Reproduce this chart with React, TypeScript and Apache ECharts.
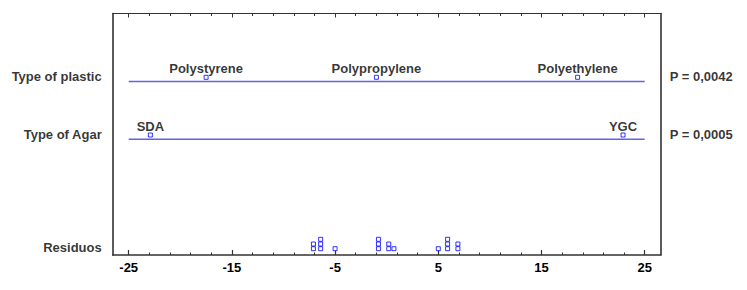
import React, { useEffect, useRef } from 'react';
import * as echarts from 'echarts';

// ---- data ----
const rowNames = ['Type of plastic', 'Type of Agar', 'Residuos'];
const pValues = ['P = 0,0042', 'P = 0,0005'];
const plasticLevels = ['Polystyrene', 'Polypropylene', 'Polyethylene'];
const plasticEffects = [-17.5, -1.0, 18.5];
const agarLevels = ['SDA', 'YGC'];
const agarEffects = [-22.9, 22.9];
const residuals = [-7.1, -7.1, -6.4, -6.4, -6.4, -5.0, -0.8, -0.8, -0.8, 0.2, 0.2, 0.7, 5.0, 5.9, 5.9, 5.9, 6.9, 6.9];
const majorTicks = [-25, -15, -5, 5, 15, 25];
const minorTicks = [-25, -23, -21, -19, -17, -15, -13, -11, -9, -7, -5, -3, -1, 1, 3, 5, 7, 9, 11, 13, 15, 17, 19, 21, 23, 25];

// ---- layout (not data) ----
const X_MIN = -26.55;
const X_MAX = 26.55;
const PLOT_H = 241.5;
const ROW_Y = [63.8, 121.5, 235.2];
const LINE_DROP = 4.2;
const STACK_STEP = 4.7;
const FONT = "'Liberation Sans', Arial, sans-serif";
const MARK_COLOR = '#0000ff';
const LINE_COLOR = '#6262ea';
const FRAME_COLOR = '#333333';

export default function App() {
  const ref = useRef<HTMLDivElement>(null);
  useEffect(() => {
    document.body.style.margin = '0';
    const chart = echarts.init(ref.current!, null, { renderer: 'svg' });

    const seen: Record<string, number> = {};
    const residualData = residuals.map((v) => {
      const k = String(v);
      const idx = seen[k] || 0;
      seen[k] = idx + 1;
      return [v, ROW_Y[2] - idx * STACK_STEP];
    });

    const lineEnds = [majorTicks[0], majorTicks[majorTicks.length - 1]];
    const textStyle = { color: '#000', fontWeight: 'bold' as const, fontSize: 13, fontFamily: FONT };
    const markerStyle = { color: '#ffffff', borderColor: MARK_COLOR, borderWidth: 1 };

    const effectSeries = (names: string[], vals: number[], row: number) => ({
      type: 'scatter',
      symbol: 'rect',
      symbolSize: 4,
      itemStyle: markerStyle,
      data: vals.map((v, i) => ({ value: [v, ROW_Y[row]], name: names[i] })),
      label: { show: true, position: 'top', distance: 0, formatter: '{b}', lineHeight: 13, ...textStyle },
      z: 5,
    });

    const rowLine = (row: number) => ({
      type: 'line',
      symbol: 'none',
      lineStyle: { color: LINE_COLOR, width: 1.6 },
      data: lineEnds.map((x) => [x, ROW_Y[row] + LINE_DROP]),
      z: 3,
    });

    const frameLine = (width: number) => ({ show: true, onZero: false, lineStyle: { color: FRAME_COLOR, width } });

    chart.setOption({
      animation: false,
      grid: { left: 112.7, right: 86.3, top: 13.5, bottom: 35, containLabel: false },
      xAxis: [
        {
          type: 'value', position: 'bottom', min: X_MIN, max: X_MAX,
          axisLine: frameLine(1.6),
          axisTick: { show: true, inside: true, length: 5, customValues: majorTicks, lineStyle: { color: FRAME_COLOR, width: 1.2 } },
          axisLabel: { show: true, customValues: majorTicks, margin: 6, ...textStyle },
          splitLine: { show: false },
        },
        {
          type: 'value', position: 'bottom', min: X_MIN, max: X_MAX,
          axisLine: { show: false, onZero: false },
          axisTick: { show: true, inside: true, length: 2.5, customValues: minorTicks, lineStyle: { color: FRAME_COLOR, width: 1 } },
          axisLabel: { show: false },
          splitLine: { show: false },
        },
        {
          type: 'value', position: 'top', min: X_MIN, max: X_MAX,
          axisLine: frameLine(1.2),
          axisTick: { show: true, inside: true, length: 4, customValues: majorTicks, lineStyle: { color: FRAME_COLOR, width: 1 } },
          axisLabel: { show: false },
          splitLine: { show: false },
        },
        {
          type: 'value', position: 'top', min: X_MIN, max: X_MAX,
          axisLine: { show: false, onZero: false },
          axisTick: { show: true, inside: true, length: 2.5, customValues: minorTicks, lineStyle: { color: FRAME_COLOR, width: 1 } },
          axisLabel: { show: false },
          splitLine: { show: false },
        },
      ],
      yAxis: [
        {
          type: 'value', position: 'left', min: 0, max: PLOT_H, inverse: true,
          axisLine: frameLine(1.6),
          axisTick: { show: false }, axisLabel: { show: false }, splitLine: { show: false },
        },
        {
          type: 'value', position: 'right', min: 0, max: PLOT_H, inverse: true,
          axisLine: frameLine(1.6),
          axisTick: { show: false }, axisLabel: { show: false }, splitLine: { show: false },
        },
      ],
      series: [
        rowLine(0),
        rowLine(1),
        effectSeries(plasticLevels, plasticEffects, 0),
        effectSeries(agarLevels, agarEffects, 1),
        {
          type: 'scatter',
          symbol: 'rect',
          symbolSize: 4,
          itemStyle: markerStyle,
          data: residualData,
          z: 5,
        },
        {
          type: 'scatter',
          symbolSize: 0,
          data: rowNames.map((n, i) => ({ value: [lineEnds[0], ROW_Y[i]], name: n })),
          label: { show: true, position: 'left', distance: 27, offset: [0, -1], formatter: '{b}', ...textStyle },
        },
        {
          type: 'scatter',
          symbolSize: 0,
          data: pValues.map((n, i) => ({ value: [lineEnds[1], ROW_Y[i]], name: n })),
          label: { show: true, position: 'right', distance: 25, offset: [0, -1], formatter: '{b}', ...textStyle },
        },
      ],
    });
    return () => chart.dispose();
  }, []);
  return <div ref={ref} style={{ width: 747, height: 290 }} />;
}
